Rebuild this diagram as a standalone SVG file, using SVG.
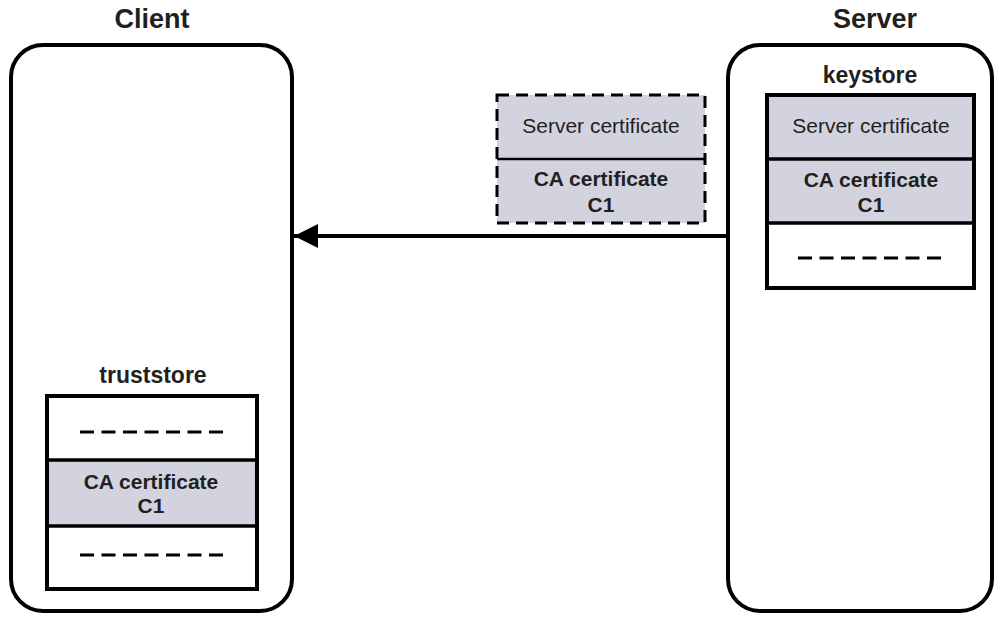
<svg xmlns="http://www.w3.org/2000/svg" width="1002" height="621" viewBox="0 0 1002 621">
  <defs>
    <style>
      .host { fill: #fff; stroke: #000; stroke-width: 4; }
      .title { font-family: "Liberation Sans", Arial, sans-serif; font-weight: bold; font-size: 27px; fill: #231f20; text-anchor: middle; }
      .label { font-family: "Liberation Sans", Arial, sans-serif; font-weight: bold; font-size: 23px; fill: #231f20; text-anchor: middle; }
      .cert { font-family: "Liberation Sans", Arial, sans-serif; font-size: 21px; fill: #231f20; text-anchor: middle; }
      .certb { font-family: "Liberation Sans", Arial, sans-serif; font-weight: bold; font-size: 21px; fill: #231f20; text-anchor: middle; }
      .slot { fill: #d3d3e0; stroke: none; }
      .frame { fill: none; stroke: #000; stroke-width: 4; }
      .rule { stroke: #000; stroke-width: 3.5; }
      .empty { stroke: #000; stroke-width: 3; stroke-dasharray: 14 7.5; }
      .conn { stroke: #000; stroke-width: 4; fill: none; }
    </style>
    <marker id="arrow" markerUnits="userSpaceOnUse" markerWidth="26" markerHeight="26" refX="24" refY="13" orient="auto">
      <path d="M0,1 L24,13 L0,25 Z" fill="#000"/>
    </marker>
  </defs>

  <!-- Client host -->
  <g id="client">
    <text class="title" x="152" y="28">Client</text>
    <rect class="host" x="11" y="45" width="281" height="566" rx="32" ry="32"/>
  </g>

  <!-- Server host -->
  <g id="server">
    <text class="title" x="875" y="28">Server</text>
    <rect class="host" x="728" y="45" width="264" height="566" rx="32" ry="32"/>
  </g>

  <!-- Server keystore -->
  <g id="keystore">
    <text class="label" x="870" y="83">keystore</text>
    <rect class="slot" x="765" y="93" width="210" height="130"/>
    <rect class="frame" x="767" y="95" width="207" height="193"/>
    <line class="rule" x1="767" y1="159" x2="974" y2="159"/>
    <line class="rule" x1="767" y1="223" x2="974" y2="223"/>
    <text class="cert" x="871" y="133">Server certificate</text>
    <text class="certb" x="871" y="187">CA certificate</text>
    <text class="certb" x="871" y="212">C1</text>
    <line class="empty" x1="798" y1="258" x2="941" y2="258"/>
  </g>

  <!-- Client truststore -->
  <g id="truststore">
    <text class="label" x="153" y="383">truststore</text>
    <rect class="slot" x="48" y="460" width="210" height="66"/>
    <rect class="frame" x="47" y="396" width="210" height="193"/>
    <line class="rule" x1="47" y1="460" x2="257" y2="460"/>
    <line class="rule" x1="47" y1="526" x2="257" y2="526"/>
    <line class="empty" x1="80" y1="432" x2="223" y2="432"/>
    <text class="certb" x="151" y="489">CA certificate</text>
    <text class="certb" x="151" y="513">C1</text>
    <line class="empty" x1="80" y1="555" x2="223" y2="555"/>
  </g>

  <!-- Certificate chain in transit -->
  <g id="chain">
    <rect class="slot" x="497" y="95" width="208" height="128"/>
    <rect x="497" y="95" width="208" height="128" fill="none" stroke="#000" stroke-width="3" stroke-dasharray="12 7"/>
    <line x1="497" y1="159" x2="705" y2="159" stroke="#000" stroke-width="2.5"/>
    <text class="cert" x="601" y="133">Server certificate</text>
    <text class="certb" x="601" y="186">CA certificate</text>
    <text class="certb" x="601" y="212">C1</text>
  </g>

  <!-- Connectors -->
  <g id="connectors">
    <line class="conn" x1="727" y1="236" x2="294" y2="236" marker-end="url(#arrow)"/>
  </g>
</svg>
